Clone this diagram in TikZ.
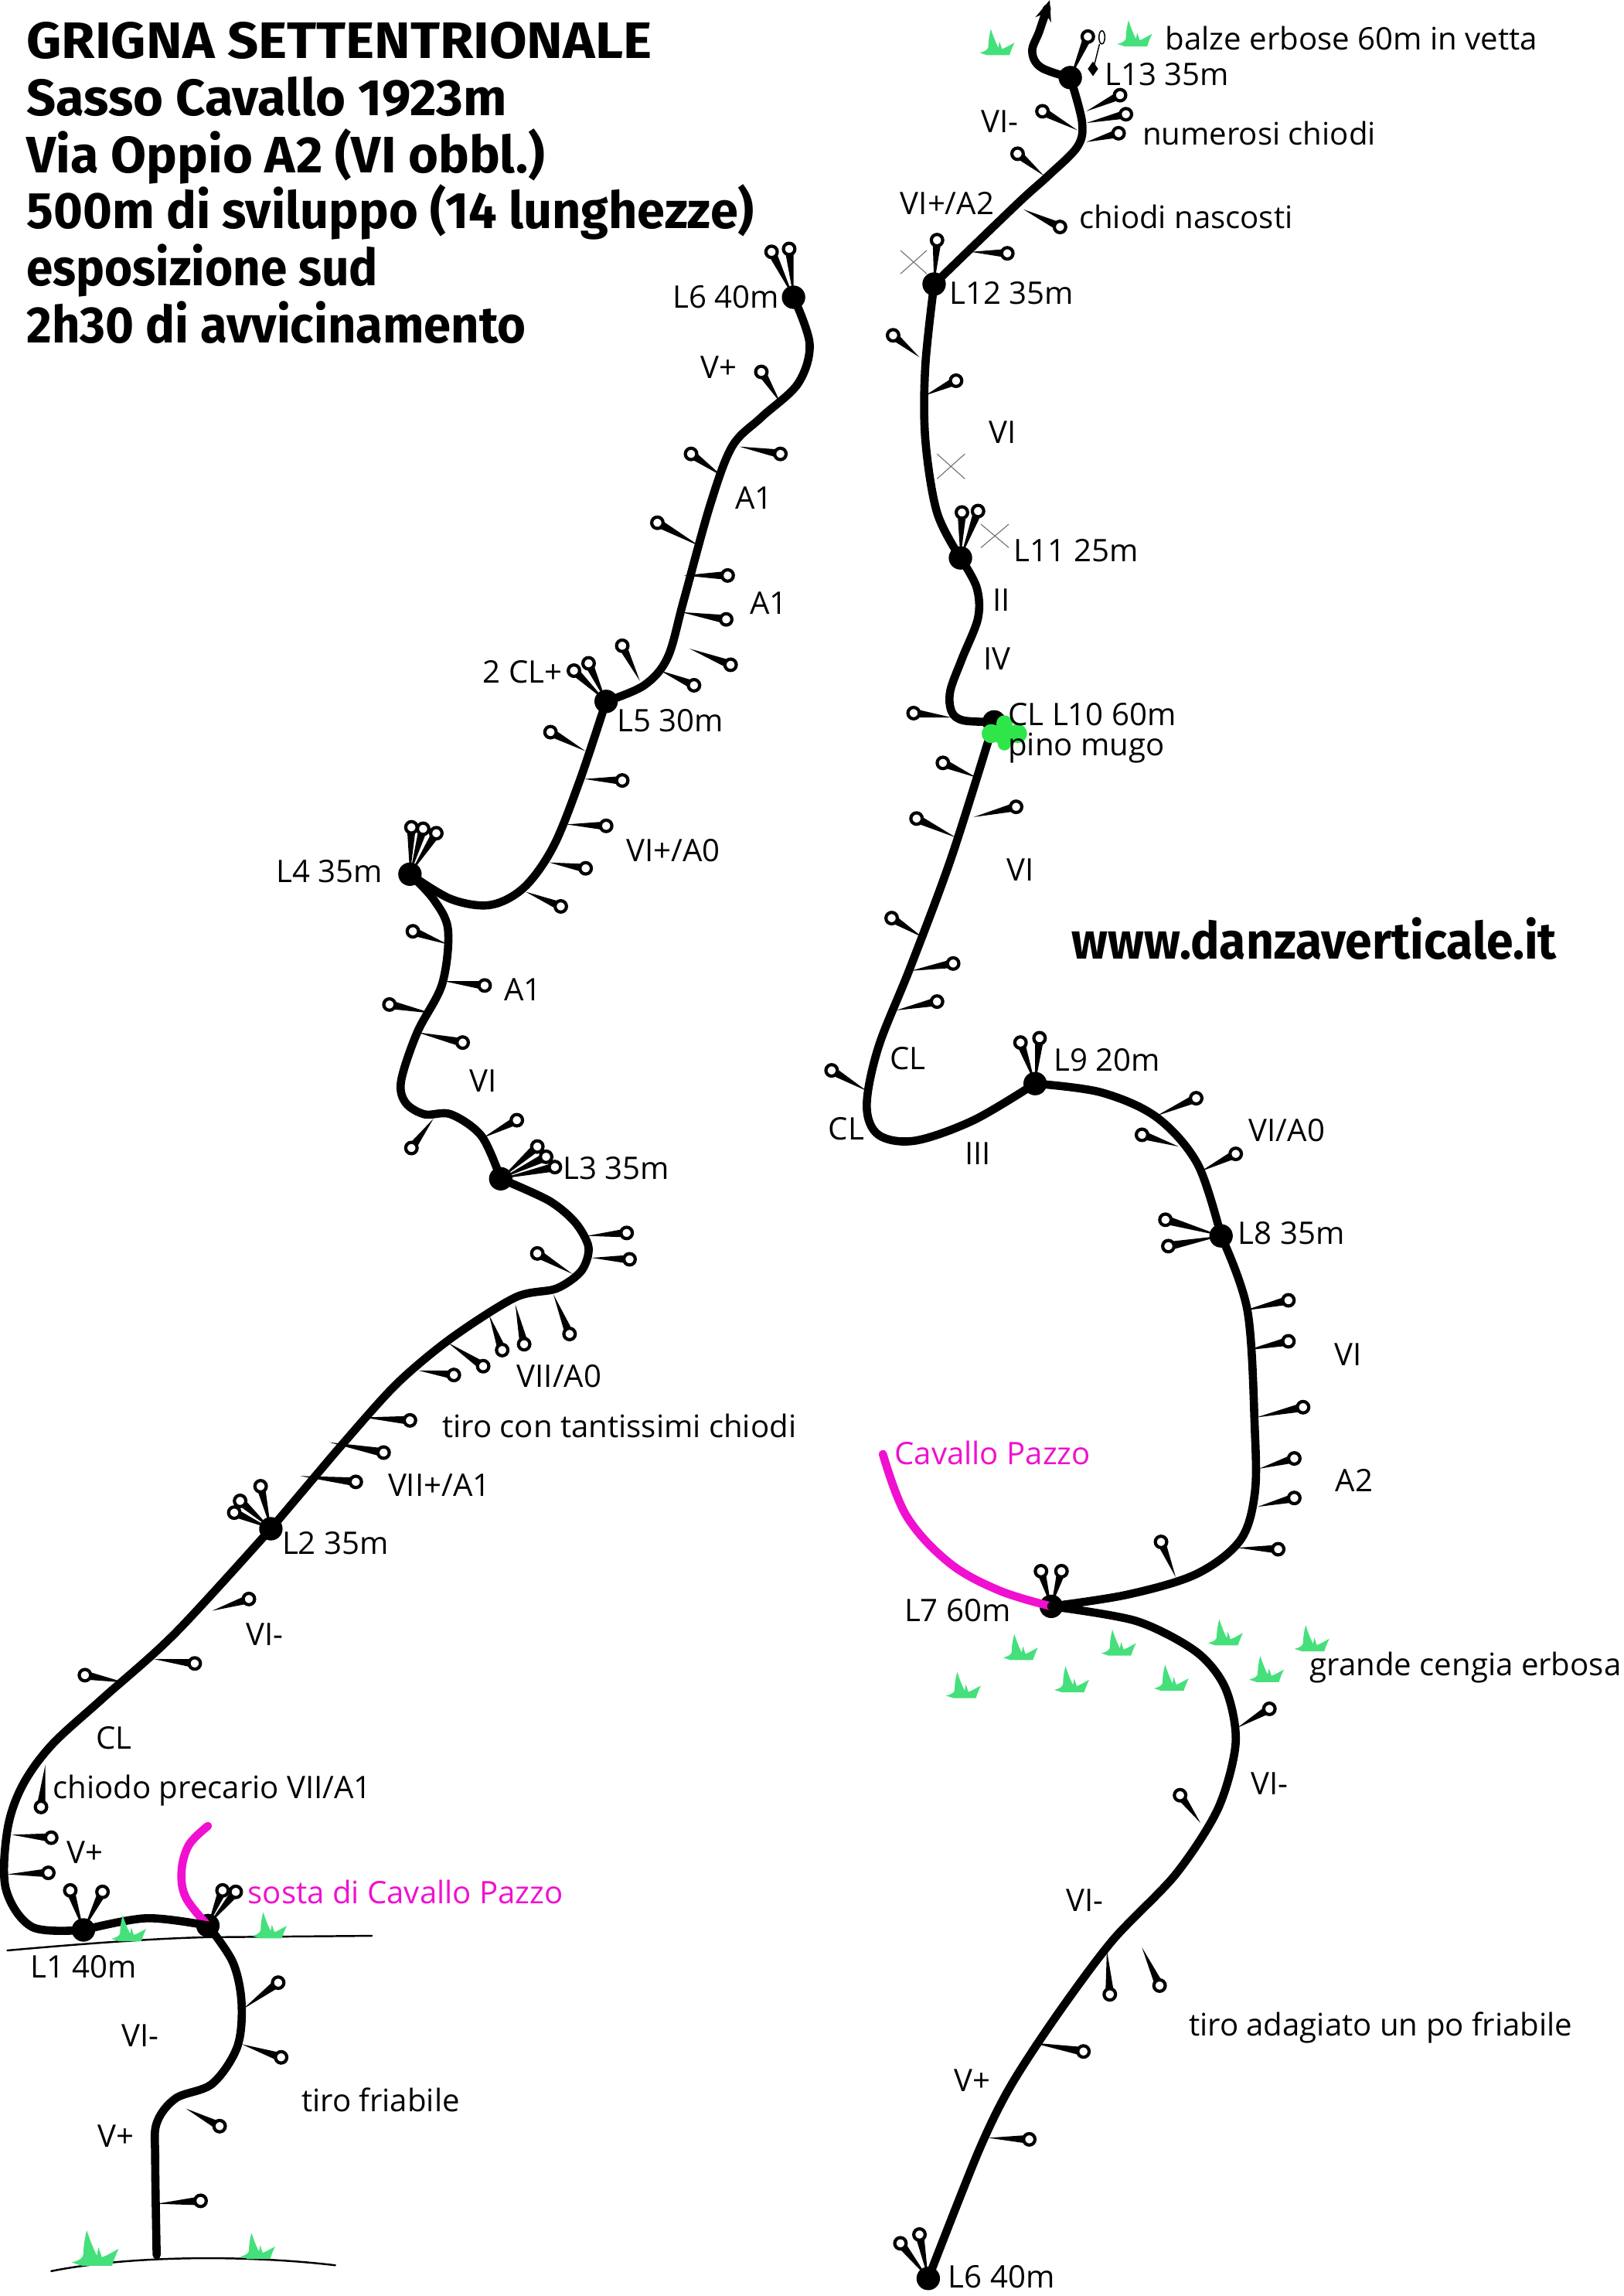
\documentclass[tikz,border=0pt]{standalone}
\usepackage{fontspec}
\setmainfont{Open Sans}
\newfontfamily\headfont{Fira Sans}
\usetikzlibrary{calc,arrows.meta}
\definecolor{grassgreen}{HTML}{45E07C}
\definecolor{pinegreen}{HTML}{2EE64A}
\definecolor{variant}{HTML}{F010D0}

% squeezes a line of text to a given width, keeping its height
\newsavebox{\fitbox}
\newcommand\fitw[2]{\sbox{\fitbox}{#2}\pgfmathparse{#1/\wd\fitbox}\scalebox{\pgfmathresult}[1]{\usebox{\fitbox}}}

\tikzset{
  x=1pt,y=-1pt,
  route/.style={line width=5.6,line cap=round,line join=round},
  variantline/.style={route,color=variant},
  belay/.style={circle,fill=black,inner sep=0,minimum size=16},
  climb/.style={font=\fontsize{21.2}{24}\selectfont,inner sep=0,text=black},
  pinklabel/.style={climb,text=variant},
  heading/.style={font=\headfont\bfseries\fontsize{35}{40}\selectfont,anchor=base west,inner sep=0},
  ledge/.style={line width=1.3,line cap=round},
  crossmark/.style={line width=.6,color=black!55},
  grass/.pic={
    \fill[grassgreen] (-14,0) .. controls (-9,-1) and (-7,-3) .. (-7,-5)
      .. controls (-7,-10) and (-6,-15) .. (-5,-19)
      .. controls (-3,-13) and (-1,-8) .. (1,-4)
      -- (2,-9) -- (4,-3)
      .. controls (7,-4) and (10,-6) .. (14,-8)
      .. controls (12,-4) and (11,-1) .. (10,2) -- (-8,2) -- cycle;
  }
}

% a piton: tapered shank from the rock to an open ring
\newcommand\bolt[2]{%
  \fill let \p1=(#1),\p2=(#2),\n1={atan2(\y2-\y1,\x2-\x1)} in
    (\p1) -- ($(\p2)+(\n1+90:3pt)$) -- ($(\p2)+(\n1-90:3pt)$) -- cycle;
  \draw[line width=2.2,fill=white] (#2) circle (3.9);
}
\newcommand\lab[3]{\node[climb] (#1) at (#2) {#3};}

\begin{document}
\begin{tikzpicture}
\useasboundingbox (0,0) rectangle (1109,1568);

% belay stations
\node[belay] (La) at (57,1318) {};
\node[belay] (Sc) at (142,1315) {};
\node[belay] (Lb) at (185,1044) {};
\node[belay] (Lc) at (342,805) {};
\node[belay] (Ld) at (280,597) {};
\node[belay] (Le) at (414,479) {};
\node[belay] (Lf) at (542,203) {};
\node[belay] (Lff) at (634,1556) {};
\node[belay] (Lg) at (718,1097) {};
\node[belay] (Lh) at (834,844) {};
\node[belay] (Li) at (707,740) {};
\node[belay] (Lj) at (679,493) {};
\node[belay] (Lk) at (656,381) {};
\node[belay] (Ll) at (638,194) {};
\node[belay] (Lm) at (731,53) {};
\coordinate (start) at (107,1540);
\coordinate (summit) at (717,0);
\coordinate (cpa) at (142,1247);
\coordinate (cpb) at (603,993);

% ground and ledge lines
\draw[ledge] (35,1551) .. controls (90,1540) and (170,1540) .. (229,1547);
\draw[ledge] (5,1332) .. controls (50,1328) and (100,1324) .. (140,1323) -- (254,1322);

% variant lines
\draw[variantline] plot[smooth,tension=.6] coordinates {(cpa) (129,1260) (124,1278) (127,1296) (Sc.center)};
\draw[variantline] plot[smooth,tension=.6] coordinates {(cpb) (619,1035) (648,1067) (682,1086) (Lg.center)};

% pitons on the left-hand part
\foreach \a/\b/\c/\d in {
  107/1505/137/1503, 127/1440/150/1452, 165/1396/192/1405, 166/1372/190/1354,
  8/1253/35/1255, 5/1280/33/1279, 31/1205/28/1234, 85/1149/58/1144,
  105/1133/133/1136, 145/1100/170/1092, 205/1008/243/1012, 225/985/262/992,
  248/968/280/970, 286/936/310/939, 306/917/330/933, 334/898/343/922,
  352/891/358/918, 378/884/389/911, 391/870/367/856, 404/859/430/860,
  401/844/428/842, 330/777/353/765, 296/764/281/784, 285/705/316/712,
  295/692/266/686, 303/670/331/673, 306/645/282/636, 359/609/383/619,
  375/589/400/593, 387/563/414/564, 399/532/425/533, 400/513/376/500,
  437/465/425/441, 451/458/474/468, 471/443/499/454, 467/393/497/393,
  465/418/496/423, 478/373/449/357, 493/325/472/310, 505/305/533/310,
  533/275/520/254
}{\bolt{\a,\b}{\c,\d}}

% pitons on the right-hand part
\foreach \a/\b/\c/\d in {
  675/1460/703/1461, 705/1395/740/1401, 756/1332/758/1362, 780/1330/792/1356,
  820/1245/806/1226, 845/1180/867/1167, 803/1077/793/1053, 845/1057/873/1058,
  859/1029/884/1023, 860/1003/884/996, 858/968/890/961, 852/922/880/916,
  850/895/880/888, 820/800/844/788, 805/783/780/775, 790/762/817/750,
  592/745/568/731, 612/690/640/684, 622/663/651/658, 630/640/609/627,
  665/558/694/551, 653/572/626/559, 667/531/644/521, 650/490/624/487,
  628/244/610/229, 632/270/653/260, 663/172/688/173, 699/143/724/155,
  713/120/695/105, 736/89/712/76, 742/76/765/65, 742/84/769/78,
  742/97/764/91
}{\bolt{\a,\b}{\c,\d}}

% anchor pitons above the stations
\foreach \st/\c/\d in {
  La/48/1291, La/70/1292, Sc/152/1291, Sc/161/1292, Lb/160/1033, Lb/164/1025,
  Lb/178/1015, Lc/367/783, Lc/373/790, Lc/379/797, Ld/281/565, Ld/289/566,
  Ld/298/569, Le/392/458, Le/402/453, Lf/527/172, Lf/539/170, Lff/615/1532,
  Lff/628/1526, Lg/711/1073, Lg/725/1073, Lh/796/833, Lh/798/851, Li/697/712,
  Li/710/709, Lk/657/350, Lk/668/349, Ll/640/164, Lm/743/25
}{\bolt{\st}{\c,\d}}

% hidden piton and small peg by the last station
\draw[line width=.8,fill=white] (747,46) -- (751,30);
\draw[line width=.8,fill=white] (752.6,25.5) ellipse (2 and 4.5);
\fill (746.5,42) -- (750,47) -- (746.5,52) -- (743,47) -- cycle;

% the route, pitch by pitch
\draw[route] plot[smooth,tension=.55] coordinates {(start) (106,1475) (107,1450) (120,1433) (145,1423) (162,1398) (165,1368) (159,1340) (Sc.center)};
\draw[route] plot[smooth,tension=.55] coordinates {(Sc.center) (100,1310) (La.center)};
\draw[route] plot[smooth,tension=.55] coordinates {(La.center) (22,1316) (4,1290) (5,1250) (15,1220) (35,1192) (70,1160) (120,1115) (Lb.center)};
\draw[route] plot[smooth,tension=.5] coordinates {(Lb.center) (207,1018) (235,985) (271,945) (308,914) (352,886) (380,880) (397,868) (402,852) (393,835) (375,820) (Lc.center)};
\draw[route] plot[smooth,tension=.55] coordinates {(Lc.center) (329,776) (308,761) (290,761) (277,753) (274,738) (285,705) (302,672) (306,635) (296,614) (Ld.center)};
\draw[route] plot[smooth,tension=.55] coordinates {(Ld.center) (308,614) (335,618) (358,606) (378,578) (396,533) (Le.center)};
\draw[route] plot[smooth,tension=.55] coordinates {(Le.center) (440,468) (456,449) (467,410) (485,345) (500,305) (520,285) (545,262) (553,235) (Lf.center)};
\draw[route] plot[smooth,tension=.5] coordinates {(Lff.center) (668,1470) (690,1425) (722,1376) (760,1325) (803,1280) (832,1235) (844,1190) (837,1153) (817,1128) (776,1107) (Lg.center)};
\draw[route] plot[smooth,tension=.55] coordinates {(Lg.center) (770,1089) (817,1075) (847,1052) (857,1020) (857,975) (852,895) (Lh.center)};
\draw[route] plot[smooth,tension=.55] coordinates {(Lh.center) (818,795) (790,763) (752,746) (Li.center)};
\draw[route] plot[smooth,tension=.55] coordinates {(Li.center) (665,765) (625,779) (600,775) (592,755) (600,715) (622,660) (650,585) (Lj.center)};
\draw[route] plot[smooth,tension=.55] coordinates {(Lj.center) (658,492) (650,486) (649,472) (657,450) (668,422) (667,401) (Lk.center)};
\draw[route] plot[smooth,tension=.55] coordinates {(Lk.center) (640,350) (632,300) (632,250) (Ll.center)};
\draw[route] plot[smooth,tension=.55] coordinates {(Ll.center) (695,139) (716,120) (736,100) (739,83) (Lm.center)};
\draw[route,-{Stealth[length=14,width=11]}] plot[smooth,tension=.6] coordinates {(Lm.center) (711,46) (705,35) (710,21) (summit)};

% retreat crosses
\draw[crossmark] (615,171) -- (633,187) (633,171) -- (615,187);
\draw[crossmark] (640,310) -- (659,327) (659,310) -- (640,327);
\draw[crossmark] (670,358) -- (689,374) (689,358) -- (670,374);

% grass tufts
\foreach \x/\y/\s in {681/36/.85, 775/30/.85, 697/1132/.85, 764/1129/.85, 837/1122/.85, 896/1126/.85, 865/1147/.85,
  800/1153/.85, 732/1154/.85, 658/1158/.85, 88/1324/.85, 184/1322/.85, 65/1545/1.15, 176/1541/.85}{
  \pic[scale=\s] at (\x,\y) {grass};
}

% pine on the station ledge
\fill[pinegreen] (686,501) circle (8) (677,501) circle (6.5) (695,501) circle (6.5) (686,494) circle (5.5) (686,508) circle (4.5);

% heading
\node[heading] (h1) at (18,40) {\fitw{427}{GRIGNA SETTENTRIONALE}};
\node[heading] (h2) at (18,79) {\fitw{328}{Sasso Cavallo 1923m}};
\node[heading] (h3) at (18,118) {\fitw{354}{Via Oppio A2 (VI obbl.)}};
\node[heading] (h4) at (18,156) {\fitw{497}{500m di sviluppo (14 lunghezze)}};
\node[heading] (h5) at (18,195) {\fitw{240}{esposizione sud}};
\node[heading] (h6) at (18,234) {\fitw{341}{2h30 di avvicinamento}};
\node[heading] (web) at (732,655) {\fitw{331}{www.danzaverticale.it}};

% labels along the left-hand part
\lab{tA}{496,203}{L6 40m}
\lab{tB}{491,251}{V+}
\lab{tC}{515,340}{A1}
\lab{tD}{525,412}{A1}
\lab{tE}{357,459}{2 CL+}
\lab{tF}{458,492}{L5 30m}
\lab{tG}{460,581}{VI+/A0}
\lab{tH}{225,595}{L4 35m}
\lab{tI}{357,676}{A1}
\lab{tJ}{330,738}{VI}
\lab{tK}{421,798}{L3 35m}
\lab{tL}{382,940}{VII/A0}
\lab{tM}{423,974}{tiro con tantissimi chiodi}
\lab{tN}{300,1014}{VII+/A1}
\lab{tO}{229,1054}{L2 35m}
\lab{tP}{181,1116}{VI-}
\lab{tQ}{78,1187}{CL}
\lab{tR}{145,1223}{chiodo precario VII/A1}
\lab{tS}{58,1265}{V+}
\node[pinklabel] (tT) at (277,1292) {sosta di Cavallo Pazzo};
\lab{tU}{57,1343}{L1 40m}
\lab{tV}{96,1390}{VI-}
\lab{tW}{260,1434}{tiro friabile}
\lab{tX}{79,1459}{V+}

% labels along the right-hand part
\lab{rA}{923,26}{balze erbose 60m in vetta}
\lab{rB}{797,51}{L13 35m}
\lab{rC}{683,83}{VI-}
\lab{rD}{860,91}{numerosi chiodi}
\lab{rE}{647,139}{VI+/A2}
\lab{rF}{810,148}{chiodi nascosti}
\lab{rG}{691,200}{L12 35m}
\lab{rH}{685,295}{VI}
\lab{rI}{735,376}{L11 25m}
\lab{rJ}{684,410}{II}
\lab{rK}{681,450}{IV}
\lab{rL}{746,488}{CL L10 60m}
\lab{rM}{742,511}{pino mugo}
\lab{rN}{697,594}{VI}
\lab{rO}{620,723}{CL}
\lab{rP}{756,724}{L9 20m}
\lab{rQ}{578,771}{CL}
\lab{rR}{668,788}{III}
\lab{rS}{879,772}{VI/A0}
\lab{rT}{882,842}{L8 35m}
\lab{rU}{921,925}{VI}
\node[pinklabel] (rV) at (678,992) {Cavallo Pazzo};
\lab{rW}{925,1011}{A2}
\lab{rX}{654,1100}{L7 60m}
\lab{rY}{1001,1139}{grande cengia erbosa}
\lab{rZ}{867,1218}{VI-}
\lab{sA}{741,1298}{VI-}
\lab{sB}{943,1385}{tiro adagiato un po friabile}
\lab{sC}{664,1421}{V+}
\lab{sD}{684,1555}{L6 40m}
\end{tikzpicture}
\end{document}
